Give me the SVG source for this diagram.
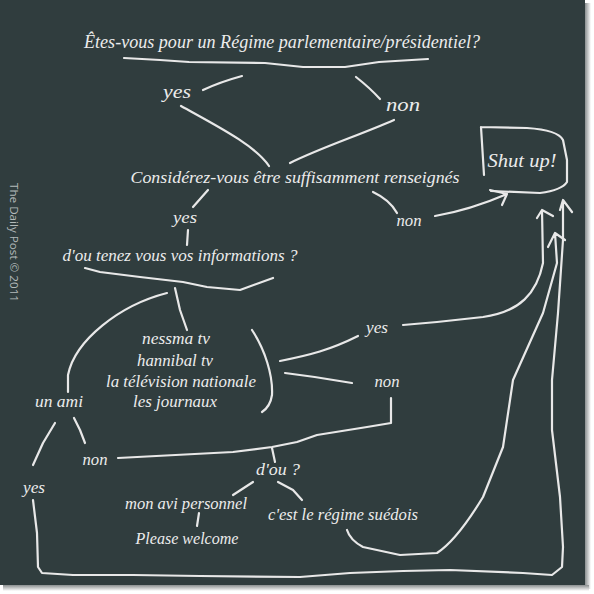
<svg xmlns="http://www.w3.org/2000/svg" width="594" height="594" viewBox="0 0 594 594">
<defs>
<linearGradient id="shR" x1="0" y1="0" x2="1" y2="0"><stop offset="0" stop-color="#8a8f90"/><stop offset="1" stop-color="#ffffff"/></linearGradient>
<linearGradient id="shB" x1="0" y1="0" x2="0" y2="1"><stop offset="0" stop-color="#8a8f90"/><stop offset="1" stop-color="#ffffff"/></linearGradient>
</defs>
<style>
.t{font-family:"Liberation Serif","DejaVu Serif",serif;font-style:italic;fill:#ececec;font-size:16px;text-anchor:middle}
.c{fill:none;stroke:#e8e8e8;stroke-width:2.2;stroke-linecap:round;stroke-linejoin:round}
.w{font-family:"Open Sans","Liberation Sans",sans-serif;fill:#b3baba;font-size:11.5px}
</style>
<rect x="0" y="0" width="594" height="594" fill="#ffffff"/>
<rect x="585" y="3" width="6" height="586" fill="url(#shR)"/>
<rect x="3" y="585" width="586" height="6" fill="url(#shB)"/>
<rect x="0" y="0" width="585" height="585" fill="#303d3e"/>
<text class="w" transform="translate(10,183) rotate(90)" textLength="119" lengthAdjust="spacingAndGlyphs">The Daily Post © 2011</text>

<g id="connectors" class="c">
<path d="M124,58 L160,60 L189,62 L265,63 L303,67 L345,67 L379,62 L428,59"/>
<path d="M242,76 Q220,82 203,90"/>
<path d="M356,77 Q370,88 380,99"/>
<path d="M181,106 C215,125 255,145 269,166"/>
<path d="M394,120 C360,135 320,148 290,163"/>
<path d="M208,190 L193,207"/>
<path d="M188,230 L187,245"/>
<path d="M373,192 Q390,200 397,213"/>
<path d="M435,216 Q470,210 507,194 M490,190 L507,194 L502,205"/>
<path d="M85,268 L100,272 L140,277 L183,282 L207,287 L240,290 L273,278"/>
<path d="M175,288 L180,310 L187,330"/>
<path d="M167,293 C120,305 75,340 68,375 L68,392"/>
<path d="M252,330 C265,350 273,375 272,395 C271,402 268,408 262,412"/>
<path d="M280,361 C310,355 330,350 358,336"/>
<path d="M285,373 C310,376 335,380 352,383"/>
<path d="M391,398 L391,423 L367,427 L317,435 L297,442 L272,447 L233,452 L118,458"/>
<path d="M272,448 L275,462"/>
<path d="M253,482 L233,495"/>
<path d="M278,482 L293,490 L302,500"/>
<path d="M199,513 L197,526"/>
<path d="M55,423 L43,443 L33,465"/>
<path d="M74,418 L80,430 L85,443"/>
<path d="M403,325 L437,322 L483,317 C520,312 537,293 543,263 L542,210 M537,218 L542,210 L553,216"/>
<path d="M347,530 Q350,540 363,547 L400,555 L437,553 Q457,540 483,497 L503,447 L513,380 L543,313 L557,263 L555,233 M548,247 L555,233 L565,240"/>
<path d="M33,500 L37,533 L38,567 L42,573 L73,575 L133,575 L200,576 L300,577 L350,573 L403,571 L450,570 L523,573 L552,575 L562,567 L563,547 L560,497 L552,430 L552,380 L558,313 L563,240 L563,200 M560,210 L563,200 L572,212"/>
</g>

<g id="title"><text class="t" x="282" y="48" style="font-size:19px" textLength="396" lengthAdjust="spacingAndGlyphs">Êtes-vous pour un Régime parlementaire/présidentiel?</text></g>
<g id="yes1"><text class="t" x="177" y="98" style="font-size:18px" textLength="28" lengthAdjust="spacingAndGlyphs">yes</text></g>
<g id="non1"><text class="t" x="403" y="111" style="font-size:18px" textLength="34" lengthAdjust="spacingAndGlyphs">non</text></g>
<g id="considerez"><text class="t" x="295" y="183" style="font-size:17px" textLength="329" lengthAdjust="spacingAndGlyphs">Considérez-vous être suffisamment renseignés</text></g>
<g id="shutup">
<path class="c" d="M481,127 L484,175 M481,127 L527,128 Q558,130 563,140 L567,160 L567,182 Q562,190 540,193 L491,191"/>
<text class="t" x="522" y="167" style="font-size:19px" textLength="69" lengthAdjust="spacingAndGlyphs">Shut up!</text>
</g>
<g id="yes2"><text class="t" x="185" y="223" textLength="24" lengthAdjust="spacingAndGlyphs">yes</text></g>
<g id="non2"><text class="t" x="409" y="226" textLength="25" lengthAdjust="spacingAndGlyphs">non</text></g>
<g id="dou-tenez"><text class="t" x="180" y="261" textLength="235" lengthAdjust="spacingAndGlyphs">d'ou tenez  vous vos informations ?</text></g>
<g id="sources">
<text class="t" x="176" y="344" textLength="68" lengthAdjust="spacingAndGlyphs">nessma tv</text>
<text class="t" x="175" y="366" textLength="76" lengthAdjust="spacingAndGlyphs">hannibal tv</text>
<text class="t" x="181" y="387" textLength="150" lengthAdjust="spacingAndGlyphs">la télévision nationale</text>
<text class="t" x="175" y="407" textLength="84" lengthAdjust="spacingAndGlyphs">les journaux</text>
</g>
<g id="yes3"><text class="t" x="377" y="333" textLength="22" lengthAdjust="spacingAndGlyphs">yes</text></g>
<g id="non3"><text class="t" x="387" y="387" textLength="25" lengthAdjust="spacingAndGlyphs">non</text></g>
<g id="unami"><text class="t" x="59" y="407" textLength="48" lengthAdjust="spacingAndGlyphs">un ami</text></g>
<g id="non4"><text class="t" x="95" y="465" textLength="25" lengthAdjust="spacingAndGlyphs">non</text></g>
<g id="yes4"><text class="t" x="34" y="493" textLength="22" lengthAdjust="spacingAndGlyphs">yes</text></g>
<g id="dou"><text class="t" x="278" y="475" textLength="44" lengthAdjust="spacingAndGlyphs">d'ou ?</text></g>
<g id="monavi"><text class="t" x="186" y="509" textLength="122" lengthAdjust="spacingAndGlyphs">mon avi personnel</text></g>
<g id="please"><text class="t" x="187" y="544" style="font-size:17px" textLength="103" lengthAdjust="spacingAndGlyphs">Please welcome</text></g>
<g id="suedois"><text class="t" x="343" y="520" textLength="150" lengthAdjust="spacingAndGlyphs">c'est le régime suédois</text></g>
</svg>
